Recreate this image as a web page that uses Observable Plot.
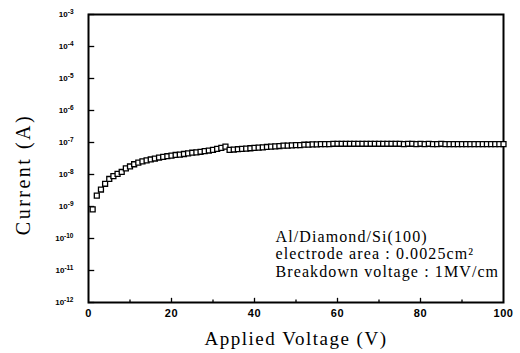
<!DOCTYPE html>
<html>
<head>
<meta charset="utf-8">
<script src="https://cdn.jsdelivr.net/npm/d3@7"></script>
<script src="https://cdn.jsdelivr.net/npm/@observablehq/plot@0.6"></script>
<style>
  html, body { margin: 0; padding: 0; background: #fff; }
  #chart { width: 520px; height: 353px; }
</style>
</head>
<body>
<div id="chart"></div>
<script>
// Applied voltage (V)
const voltage = [
  1,2,3,4,5,6,7,8,9,10,
  11,12,13,14,15,16,17,18,19,20,
  21,22,23,24,25,26,27,28,29,30,
  31,32,33,34,35,36,37,38,39,40,
  41,42,43,44,45,46,47,48,49,50,
  51,52,53,54,55,56,57,58,59,60,
  61,62,63,64,65,66,67,68,69,70,
  71,72,73,74,75,76,77,78,79,80,
  81,82,83,84,85,86,87,88,89,90,
  91,92,93,94,95,96,97,98,99,100
];
// Current (A)
const current = [
  8.13e-10,2.19e-9,3.39e-9,5.13e-9,7.24e-9,8.91e-9,1.05e-8,1.20e-8,1.55e-8,1.78e-8,
  2.09e-8,2.34e-8,2.57e-8,2.75e-8,2.95e-8,3.16e-8,3.39e-8,3.55e-8,3.72e-8,3.89e-8,
  4.07e-8,4.17e-8,4.37e-8,4.57e-8,4.79e-8,4.90e-8,5.13e-8,5.37e-8,5.62e-8,5.89e-8,
  6.31e-8,6.76e-8,7.41e-8,5.89e-8,6.03e-8,6.17e-8,6.31e-8,6.46e-8,6.61e-8,6.76e-8,
  6.92e-8,7.08e-8,7.24e-8,7.41e-8,7.59e-8,7.76e-8,7.94e-8,7.94e-8,8.13e-8,8.32e-8,
  8.32e-8,8.51e-8,8.51e-8,8.71e-8,8.71e-8,8.91e-8,8.91e-8,8.91e-8,9.12e-8,9.12e-8,
  9.12e-8,9.12e-8,9.12e-8,9.12e-8,9.12e-8,9.12e-8,9.12e-8,9.12e-8,9.12e-8,9.12e-8,
  9.12e-8,9.12e-8,9.12e-8,9.12e-8,9.12e-8,8.91e-8,9.12e-8,9.12e-8,8.91e-8,9.12e-8,
  8.91e-8,9.12e-8,8.91e-8,8.91e-8,9.12e-8,8.91e-8,8.91e-8,8.91e-8,8.91e-8,8.91e-8,
  8.91e-8,8.91e-8,8.91e-8,8.91e-8,8.91e-8,8.91e-8,8.91e-8,8.91e-8,8.91e-8,8.91e-8
];
const xTickLabels = [0, 20, 40, 60, 80, 100];
const xTickMarks = [10, 20, 30, 40, 50, 60, 70, 80, 90];
const yTickLabels = [1e-3, 1e-4, 1e-5, 1e-6, 1e-7, 1e-8, 1e-9, 1e-10, 1e-11, 1e-12];
const annotation = ["Al/Diamond/Si(100)", "electrode area : 0.0025cm²", "Breakdown voltage : 1MV/cm"];
const xLabel = "Applied Voltage (V)";
const yLabel = "Current (A)";

const data = voltage.map((v, i) => ({v, c: current[i]}));

const sup = {"-": "⁻", "0": "⁰", "1": "¹", "2": "²", "3": "³", "4": "⁴", "5": "⁵", "6": "⁶", "7": "⁷", "8": "⁸", "9": "⁹"};
const inv = Object.fromEntries(Object.entries(sup).map(([k, v]) => [v, k]));
const fmtPow = d => "10" + String(Math.round(Math.log10(d))).split("").map(ch => sup[ch]).join("");

const serif = "Liberation Serif, Times New Roman, serif";
const sans = "Liberation Sans, Arial, sans-serif";

const chart = Plot.plot({
  width: 520,
  height: 353,
  marginLeft: 88,
  marginRight: 17,
  marginTop: 14,
  marginBottom: 51,
  style: {background: "#fff", color: "#000"},
  x: {domain: [0, 100]},
  y: {type: "log", domain: [1e-12, 1e-3]},
  marks: [
    Plot.axisY({ticks: yTickLabels, tickFormat: fmtPow, tickSize: 0, tickPadding: 15,
      fontSize: 8, fontWeight: "bold", fontFamily: sans, label: null}),
    Plot.axisX({ticks: xTickLabels, tickFormat: d => String(d), tickSize: 0, tickPadding: 7,
      fontSize: 11, fontWeight: "bold", fontFamily: sans, label: null}),
    Plot.ruleY(yTickLabels, {y: d => d, x1: 0, x2: 1.5, stroke: "#000", strokeWidth: 1.3}),
    Plot.ruleX(xTickMarks, {x: d => d, y1: 1e-12, y2: d => (d % 20 === 0 ? 1.35e-12 : 1.2e-12), stroke: "#000", strokeWidth: 1.3}),
    Plot.frame({stroke: "#000", strokeWidth: 2}),
    Plot.dot(data, {x: "v", y: "c", symbol: "square", r: 2.8, stroke: "#000", strokeWidth: 1.3, fill: "#fff"}),
    ...annotation.map((t, i) => Plot.text([t], {frameAnchor: "bottom-left", dx: 187, dy: [-66, -49, -31][i], text: d => d,
      textAnchor: "start", lineAnchor: "middle", fontSize: 16, fontFamily: serif, fill: "#000"})),
    Plot.text([xLabel], {frameAnchor: "bottom", dy: 36, text: d => d, lineAnchor: "middle", textAnchor: "middle",
      fontSize: 19, fontFamily: serif, fill: "#000"}),
    Plot.text([yLabel], {frameAnchor: "left", dx: -65, dy: 16, rotate: -90, text: d => d, lineAnchor: "middle", textAnchor: "middle",
      fontSize: 20, fontFamily: serif, fill: "#000"})
  ]
});

// letter spacing on labels and annotation text
chart.querySelectorAll("text").forEach(t => {
  const s = t.textContent;
  if (s === xLabel) t.setAttribute("letter-spacing", "1.5");
  else if (s === yLabel) t.setAttribute("letter-spacing", "2.5");
  else if (annotation.includes(s)) t.setAttribute("letter-spacing", "1.1");
});
chart.querySelectorAll('g[aria-label="x-axis tick label"] text').forEach(t => { t.setAttribute("letter-spacing", "0.6"); });

// render exponent as a raised, smaller tspan
const svgNS = "http://www.w3.org/2000/svg";
chart.querySelectorAll('g[aria-label="y-axis tick label"] text').forEach(t => {
  const s = t.textContent;
  if (!s.startsWith("10")) return;
  const exp = s.slice(2).split("").map(c => inv[c] ?? c).join("");
  t.textContent = "10";
  const ts = document.createElementNS(svgNS, "tspan");
  ts.setAttribute("dy", "-3");
  ts.setAttribute("font-size", "6.5");
  ts.textContent = exp;
  t.appendChild(ts);
});
document.getElementById("chart").appendChild(chart);
</script>
</body>
</html>
